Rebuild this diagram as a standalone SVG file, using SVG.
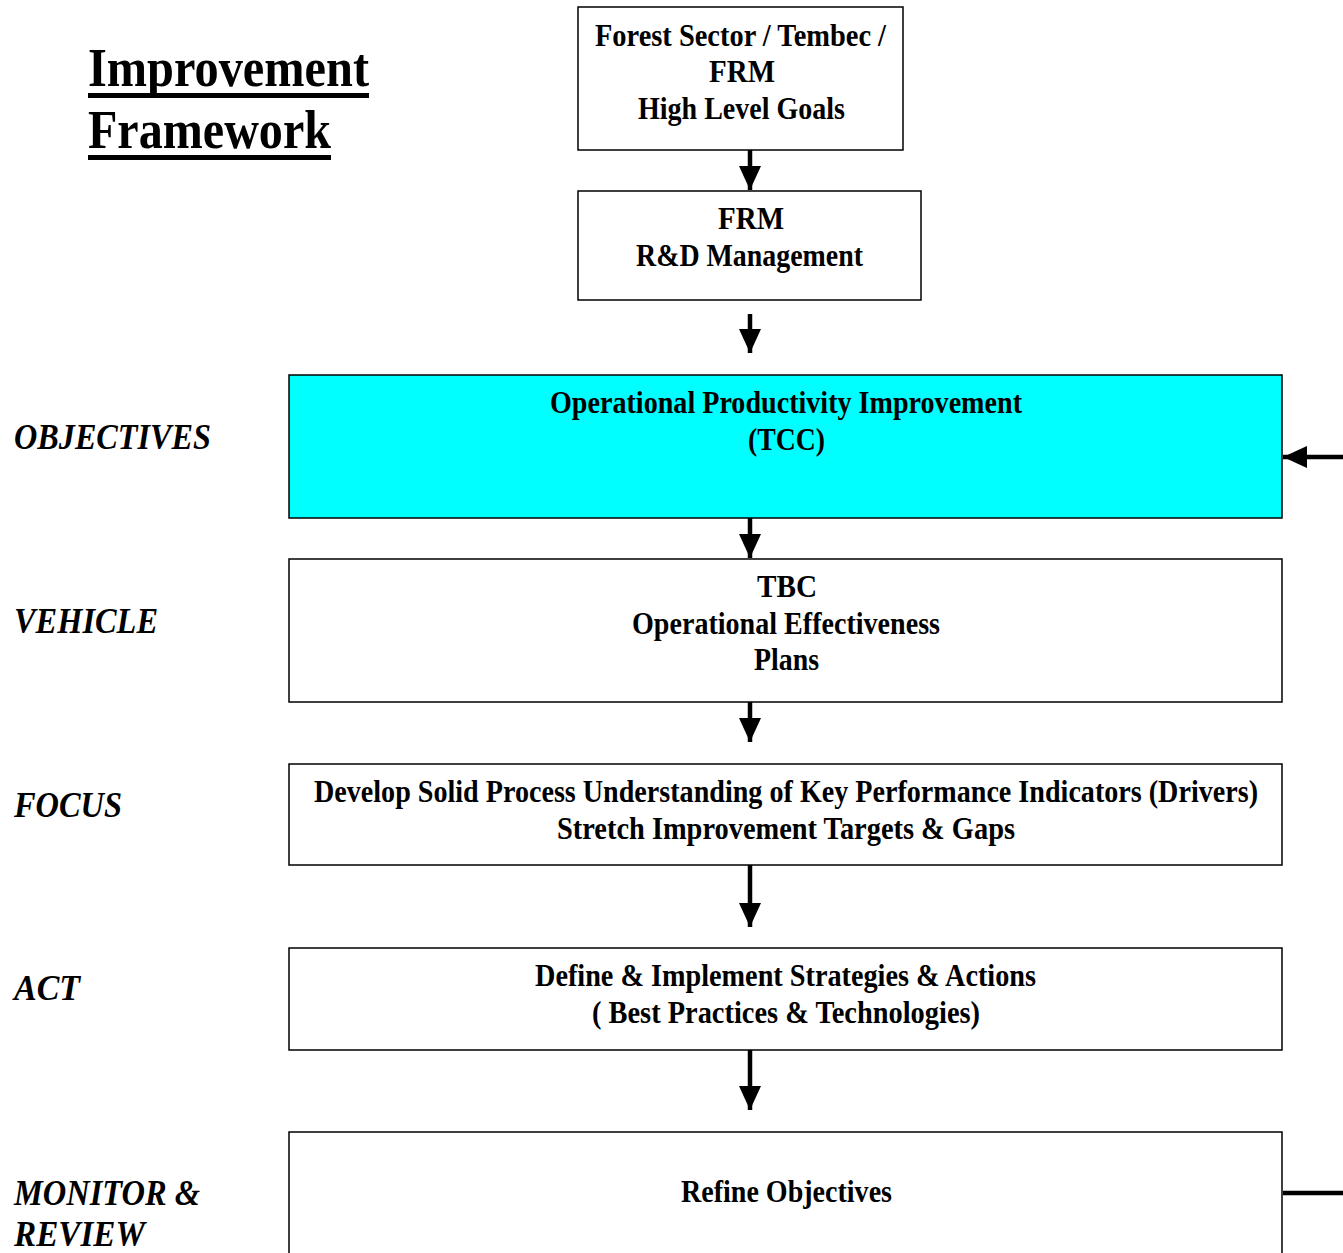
<svg xmlns="http://www.w3.org/2000/svg" width="1343" height="1253" viewBox="0 0 1343 1253">
<defs>
<marker id="ah" markerUnits="userSpaceOnUse" markerWidth="26" markerHeight="24" viewBox="0 0 26 24" refX="24" refY="12" orient="auto">
<path d="M0,1 L24,12 L0,23 Z" fill="#000"/>
</marker>
</defs>
<style>
.box{fill:#fff;stroke:#000;stroke-width:1.5}
.t{font-family:"Liberation Serif","Times New Roman",serif;font-weight:bold;font-size:31px;text-anchor:middle;fill:#000}
.l{font-family:"Liberation Serif","Times New Roman",serif;font-weight:bold;font-style:italic;font-size:36px;fill:#000}
.ttl{font-family:"Liberation Serif","Times New Roman",serif;font-weight:bold;font-size:55px;fill:#000}
.c{stroke:#000;stroke-width:4.5;fill:none}
</style>
<rect width="1343" height="1253" fill="#fff"/>
<g id="title">
<text class="ttl" x="88" y="86" textLength="281" lengthAdjust="spacingAndGlyphs">Improvement</text>
<rect x="88" y="93" width="281" height="5" fill="#000"/>
<text class="ttl" x="88" y="148" textLength="243" lengthAdjust="spacingAndGlyphs">Framework</text>
<rect x="88" y="155" width="243" height="5" fill="#000"/>
</g>
<g id="labels">
<text class="l" x="14" y="449" textLength="197" lengthAdjust="spacingAndGlyphs">OBJECTIVES</text>
<text class="l" x="14" y="633" textLength="144" lengthAdjust="spacingAndGlyphs">VEHICLE</text>
<text class="l" x="14" y="817" textLength="108" lengthAdjust="spacingAndGlyphs">FOCUS</text>
<text class="l" x="14" y="1000" textLength="66" lengthAdjust="spacingAndGlyphs">ACT</text>
<text class="l" x="14" y="1205" textLength="186" lengthAdjust="spacingAndGlyphs">MONITOR &amp;</text>
<text class="l" x="14" y="1246" textLength="131" lengthAdjust="spacingAndGlyphs">REVIEW</text>
</g>
<g id="n1">
<rect class="box" x="578" y="7" width="325" height="143"/>
<text class="t" x="740.5" y="46" textLength="291" lengthAdjust="spacingAndGlyphs">Forest Sector / Tembec /</text>
<text class="t" x="742" y="82" textLength="66" lengthAdjust="spacingAndGlyphs">FRM</text>
<text class="t" x="741.5" y="119" textLength="207" lengthAdjust="spacingAndGlyphs">High Level Goals</text>
</g>
<g id="n2">
<rect class="box" x="578" y="191" width="343" height="109"/>
<text class="t" x="751" y="229" textLength="66" lengthAdjust="spacingAndGlyphs">FRM</text>
<text class="t" x="749.5" y="266" textLength="227" lengthAdjust="spacingAndGlyphs">R&amp;D Management</text>
</g>
<g id="n3">
<rect x="289" y="375" width="993" height="143" fill="#00ffff" stroke="#000" stroke-width="1.5"/>
<text class="t" x="786" y="413" textLength="472" lengthAdjust="spacingAndGlyphs">Operational Productivity Improvement</text>
<text class="t" x="786.5" y="450" textLength="77" lengthAdjust="spacingAndGlyphs">(TCC)</text>
</g>
<g id="n4">
<rect class="box" x="289" y="559" width="993" height="143"/>
<text class="t" x="787" y="597" textLength="60" lengthAdjust="spacingAndGlyphs">TBC</text>
<text class="t" x="786" y="634" textLength="308" lengthAdjust="spacingAndGlyphs">Operational Effectiveness</text>
<text class="t" x="786.5" y="670" textLength="65" lengthAdjust="spacingAndGlyphs">Plans</text>
</g>
<g id="n5">
<rect class="box" x="289" y="764" width="993" height="101"/>
<text class="t" x="786" y="802" textLength="944" lengthAdjust="spacingAndGlyphs">Develop Solid Process Understanding of Key Performance Indicators (Drivers)</text>
<text class="t" x="786" y="839" textLength="458" lengthAdjust="spacingAndGlyphs">Stretch Improvement Targets &amp; Gaps</text>
</g>
<g id="n6">
<rect class="box" x="289" y="948" width="993" height="102"/>
<text class="t" x="785.5" y="986" textLength="501" lengthAdjust="spacingAndGlyphs">Define &amp; Implement Strategies &amp; Actions</text>
<text class="t" x="786" y="1023" textLength="388" lengthAdjust="spacingAndGlyphs">( Best Practices &amp; Technologies)</text>
</g>
<g id="n7">
<rect class="box" x="289" y="1132" width="993" height="140"/>
<text class="t" x="786.5" y="1202" textLength="211" lengthAdjust="spacingAndGlyphs">Refine Objectives</text>
</g>
<g id="connectors">
<line class="c" x1="750" y1="150" x2="750" y2="190" marker-end="url(#ah)"/>
<line class="c" x1="750" y1="314" x2="750" y2="353" marker-end="url(#ah)"/>
<line class="c" x1="750" y1="518" x2="750" y2="558" marker-end="url(#ah)"/>
<line class="c" x1="750" y1="702" x2="750" y2="742" marker-end="url(#ah)"/>
<line class="c" x1="750" y1="865" x2="750" y2="927" marker-end="url(#ah)"/>
<line class="c" x1="750" y1="1050" x2="750" y2="1110" marker-end="url(#ah)"/>
<line class="c" x1="1343" y1="457" x2="1283" y2="457" marker-end="url(#ah)"/>
<line class="c" x1="1283" y1="1193" x2="1343" y2="1193"/>
</g>
</svg>
